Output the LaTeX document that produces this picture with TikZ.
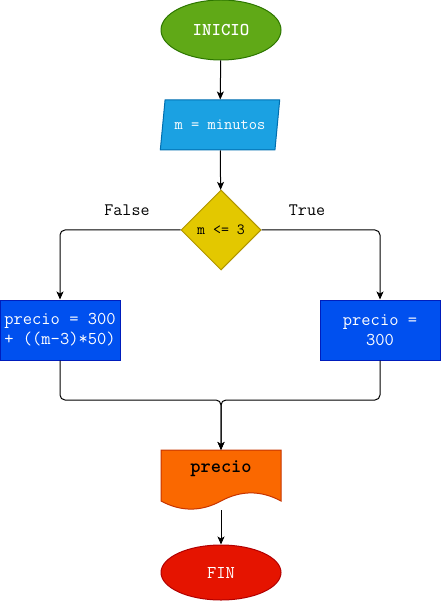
\documentclass[tikz,border=0pt]{standalone}
\usepackage{fontspec}
\usepackage{tikz}
\usetikzlibrary{shapes.geometric,arrows.meta}
\definecolor{inicioc}{HTML}{60A917}\definecolor{inicioe}{HTML}{2D7600}
\definecolor{entc}{HTML}{1BA1E2}\definecolor{ente}{HTML}{006EAF}
\definecolor{decc}{HTML}{E3C800}\definecolor{dece}{HTML}{B09500}
\definecolor{procc}{HTML}{0050EF}\definecolor{proce}{HTML}{001DBC}
\definecolor{docc}{HTML}{FA6800}\definecolor{doce}{HTML}{C73500}
\definecolor{finc}{HTML}{E51400}\definecolor{fine}{HTML}{B20000}
\begin{document}
\begin{tikzpicture}[x=1pt,y=-1pt,line width=1pt,font=\ttfamily,
  flecha/.style={-{Stealth[length=8pt,width=7pt,inset=2pt]},rounded corners=5pt},
  terminal/.style={ellipse,draw,text=white,minimum width=120,inner sep=0pt},
  proceso/.style={rectangle,draw=proce,fill=procc,text=white,minimum width=120,minimum height=60,inner sep=0pt,align=center,font=\ttfamily\fontsize{18}{20}\selectfont},
  etiqueta/.style={font=\ttfamily\fontsize{17.5}{20}\selectfont}]
  \useasboundingbox (0,0) rectangle (441,601);
  % inicio y entrada
  \node[terminal,draw=inicioe,fill=inicioc,minimum height=60,font=\ttfamily\bfseries\fontsize{18}{20}\selectfont] (inicio) at (221,30) {INICIO};
  \node[trapezium,trapezium left angle=68,trapezium right angle=112,draw=ente,fill=entc,text=white,minimum width=120,minimum height=50,inner sep=0pt,trapezium stretches=true,font=\ttfamily\fontsize{16}{18}\selectfont] (entrada) at (220,125) {m = minutos};
  % decision
  \node[diamond,draw=dece,fill=decc,minimum width=80,minimum height=80,inner sep=0pt,aspect=1,font=\ttfamily\fontsize{15.5}{18}\selectfont] (decision) at (221,230) {m <= 3};
  \node[proceso] (falso) at (60,330) {precio = 300\\+ ((m-3)*50)};
  \node[proceso] (verdad) at (380,330) {precio =\\300};
  \node[etiqueta] (lfalse) at (127,210) {False};
  \node[etiqueta] (ltrue) at (307,210) {True};
  % documento
  \draw[draw=doce,fill=docc] (161,450) -- (281,450) -- (281,501)
    .. controls (261,490.2) and (241,490.2) .. (221,501)
    .. controls (201,511.8) and (181,511.8) .. (161,501) -- cycle;
  \node[font=\ttfamily\bfseries\fontsize{19.5}{22}\selectfont] (salida) at (221,469) {precio};
  \coordinate (doctop) at (221,450);
  \coordinate (docbot) at (221,510);
  \node[terminal,draw=fine,fill=finc,minimum height=55,font=\ttfamily\fontsize{18}{20}\selectfont] (fin) at (221,572.5) {FIN};
  % conectores
  \draw[flecha] (inicio) -- (entrada);
  \draw[flecha] (entrada) -- (decision);
  \draw[flecha] (decision.west) -| (falso.north);
  \draw[flecha] (decision.east) -| (verdad.north);
  \draw[flecha] (falso.south) -- (60,400) -- (221,400) -- (doctop);
  \draw[flecha] (verdad.south) -- (380,400) -- (221,400) -- (doctop);
  \draw[flecha] (docbot) -- (fin);
\end{tikzpicture}
\end{document}
